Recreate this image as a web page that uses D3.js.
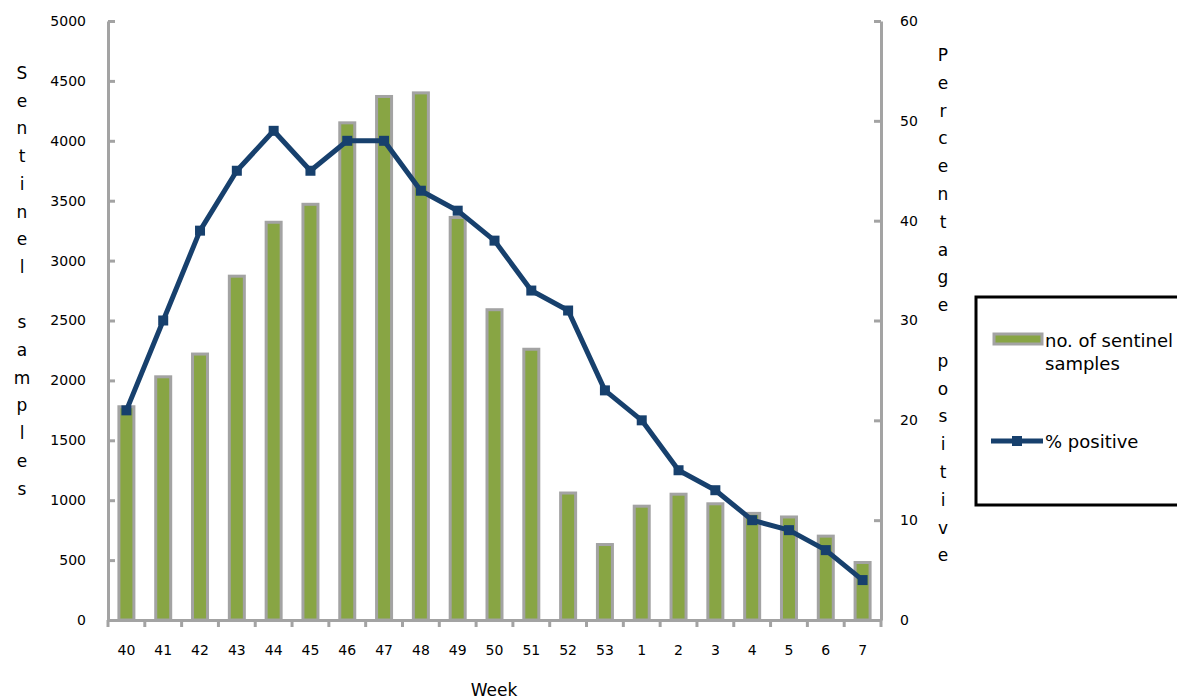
<!DOCTYPE html>
<html>
<head>
<meta charset="utf-8">
<script src="https://cdn.jsdelivr.net/npm/d3@7/dist/d3.min.js"></script>
<style>
  html, body { margin: 0; padding: 0; background: #ffffff; }
  svg { display: block; font-family: "DejaVu Sans", Verdana, sans-serif; }
</style>
</head>
<body>
<svg id="chart" width="1177" height="699"></svg>
<script>
// Weekly sentinel surveillance: sample counts (bars) and % positive (line)
const weeks = ["40","41","42","43","44","45","46","47","48","49","50","51","52","53","1","2","3","4","5","6","7"];
const samples = [1780,2030,2220,2870,3320,3470,4150,4370,4400,3360,2590,2260,1060,630,950,1050,970,890,860,700,480];
const pctPositive = [21,30,39,45,49,45,48,48,43,41,38,33,31,23,20,15,13,10,9,7,4];
const leftTicks = [0,500,1000,1500,2000,2500,3000,3500,4000,4500,5000];
const rightTicks = [0,10,20,30,40,50,60];

const svg = d3.select("#chart");
const plotL = 108, plotR = 881, plotT = 21, plotB = 620;
const axisGrey = "#a3a3a3";
const barGreen = "#88a544";
const lineBlue = "#17406d";

const x = d3.scaleBand().domain(weeks).range([plotL, plotR]).padding(0);
const yL = d3.scaleLinear().domain([0, 5000]).range([plotB, plotT]);
const yR = d3.scaleLinear().domain([0, 60]).range([plotB, plotT]);

// Bars
const barW = 15;
svg.append("g").selectAll("rect").data(weeks).join("rect")
  .attr("x", d => x(d) + x.bandwidth() / 2 - barW / 2)
  .attr("y", (d, i) => yL(samples[i]))
  .attr("width", barW)
  .attr("height", (d, i) => plotB - yL(samples[i]))
  .attr("fill", barGreen)
  .attr("stroke", axisGrey)
  .attr("stroke-width", 3);

function styleAxis(g) {
  g.select(".domain").attr("stroke", axisGrey).attr("stroke-width", 3);
  g.selectAll(".tick line").attr("stroke", axisGrey).attr("stroke-width", 3);
  g.selectAll(".tick text").attr("fill", "#000").style("font-size", "14px")
    .style("font-family", "'DejaVu Sans', Verdana, sans-serif");
}

// Left axis
svg.append("g").attr("transform", `translate(${plotL},0)`)
  .call(d3.axisLeft(yL).tickValues(leftTicks).tickFormat(d3.format("d"))
    .tickSize(-7).tickSizeOuter(0).tickPadding(22))
  .call(styleAxis);

// Right axis
svg.append("g").attr("transform", `translate(${plotR},0)`)
  .call(d3.axisRight(yR).tickValues(rightTicks).tickFormat(d3.format("d"))
    .tickSize(-7).tickSizeOuter(0).tickPadding(19))
  .call(styleAxis);

// Bottom axis: category labels plus boundary ticks
const xAxis = svg.append("g").attr("transform", `translate(0,${plotB})`)
  .call(d3.axisBottom(x).tickSize(0).tickSizeOuter(0).tickPadding(25))
  .call(styleAxis);
const bounds = weeks.map(w => x(w)).concat([plotR]);
xAxis.selectAll("line.bound").data(bounds).join("line")
  .attr("class", "bound")
  .attr("x1", d => d).attr("x2", d => d)
  .attr("y1", 0).attr("y2", 7)
  .attr("stroke", axisGrey).attr("stroke-width", 3);

// % positive line
const line = d3.line()
  .x((d, i) => x(weeks[i]) + x.bandwidth() / 2)
  .y(d => yR(d));
svg.append("path").datum(pctPositive)
  .attr("d", line)
  .attr("fill", "none")
  .attr("stroke", lineBlue)
  .attr("stroke-width", 5)
  .attr("stroke-linejoin", "round");
const mk = 10;
svg.append("g").selectAll("rect").data(pctPositive).join("rect")
  .attr("x", (d, i) => x(weeks[i]) + x.bandwidth() / 2 - mk / 2)
  .attr("y", d => yR(d) - mk / 2)
  .attr("width", mk).attr("height", mk)
  .attr("fill", lineBlue);

// Axis titles (stacked letters)
function stacked(text, cx, y0, step) {
  const g = svg.append("g");
  Array.from(text).forEach((ch, i) => {
    g.append("text").attr("x", cx).attr("y", y0 + i * step)
      .attr("text-anchor", "middle").attr("dominant-baseline", "central")
      .style("font-size", "17px").attr("fill", "#000").text(ch);
  });
}
stacked("Sentinel samples", 22, 73, 27.7);
stacked("Percentage positive", 943, 55, 27.8);

svg.append("text").attr("x", 494).attr("y", 690)
  .attr("text-anchor", "middle").attr("dominant-baseline", "central")
  .style("font-size", "17px").text("Week");

// Legend
const lg = svg.append("g");
lg.append("rect").attr("x", 976).attr("y", 297).attr("width", 215).attr("height", 208)
  .attr("fill", "#fff").attr("stroke", "#000").attr("stroke-width", 3);
lg.append("rect").attr("x", 994).attr("y", 334).attr("width", 48).attr("height", 10)
  .attr("fill", barGreen).attr("stroke", axisGrey).attr("stroke-width", 3);
lg.append("text").attr("x", 1045).attr("y", 340).attr("dominant-baseline", "central")
  .style("font-size", "18px").text("no. of sentinel");
lg.append("text").attr("x", 1045).attr("y", 363).attr("dominant-baseline", "central")
  .style("font-size", "18px").text("samples");
lg.append("line").attr("x1", 991).attr("x2", 1043).attr("y1", 441).attr("y2", 441)
  .attr("stroke", lineBlue).attr("stroke-width", 5);
lg.append("rect").attr("x", 1012).attr("y", 436).attr("width", 10).attr("height", 10)
  .attr("fill", lineBlue);
lg.append("text").attr("x", 1045).attr("y", 441).attr("dominant-baseline", "central")
  .style("font-size", "18px").text("% positive");
</script>
</body>
</html>
